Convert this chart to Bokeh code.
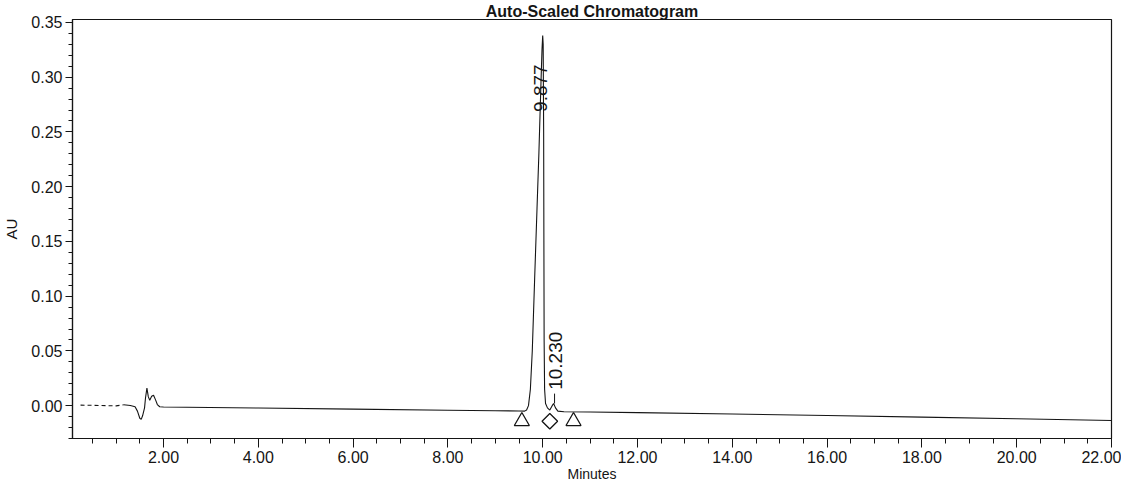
import math
from bokeh.plotting import figure
from bokeh.models import Range1d, FixedTicker, NumeralTickFormatter, ColumnDataSource
from bokeh.core.properties import value
from bokeh.embed import file_html
from bokeh.resources import INLINE

# ---- data ----
# faint (dotted) start of the trace
lead_time_min = [0.25, 0.50, 0.80, 1.00, 1.16]
lead_absorbance_au = [0.0005, 0.0003, 0.0000, -0.0002, 0.0008]

time_min = [1.16, 1.30, 1.40, 1.45, 1.50, 1.53, 1.56, 1.60,
            1.62, 1.65, 1.68, 1.71, 1.75, 1.79, 1.83, 1.87, 1.92, 2.00, 4.00, 6.00,
            8.00, 9.00, 9.50, 9.62, 9.66, 9.70, 9.74, 9.78, 9.83, 9.88, 9.92, 9.96,
            9.985, 10.00, 10.01, 10.02, 10.025, 10.03, 10.04, 10.06, 10.10, 10.15,
            10.20, 10.23, 10.27, 10.32, 10.45, 11.00, 12.00, 14.00, 16.00, 18.00,
            20.00, 22.00]
absorbance_au = [0.0008, 0.0002, -0.0010, -0.0050,
                 -0.0115, -0.0125, -0.0090, -0.0020, 0.0070, 0.0160, 0.0080, 0.0050,
                 0.0085, 0.0095, 0.0055, 0.0010, -0.0010, -0.0012, -0.0022, -0.0032,
                 -0.0042, -0.0046, -0.0049, -0.0050, -0.0040, 0.0000, 0.0150, 0.0500,
                 0.1160, 0.1800, 0.2310, 0.2900, 0.3250, 0.3380, 0.3300, 0.2500,
                 0.1500, 0.0600, 0.0150, 0.0020, -0.0020, -0.0040, 0.0000, 0.0020,
                 -0.0020, -0.0050, -0.0055, -0.0058, -0.0064, -0.0076, -0.0090,
                 -0.0105, -0.0120, -0.0135]

# integration start/end marks (triangles) and valley mark (diamond)
tri_times = [9.56, 10.65]
tri_levels = [-0.0142, -0.0142]
valley_times = [10.15]
valley_levels = [-0.0142]

# peak retention-time labels
peak_label_text = ["9.877", "10.230"]
peak_label_time = [9.95, 10.28]
peak_label_level = [0.290, 0.041]

x_major_ticks = [2, 4, 6, 8, 10, 12, 14, 16, 18, 20, 22]
y_major_ticks = [0.00, 0.05, 0.10, 0.15, 0.20, 0.25, 0.30, 0.35]

FONT = "Liberation Sans"
INK = "#151515"

p = figure(width=1121, height=484, output_backend="svg", toolbar_location=None,
           x_range=Range1d(0.08, 22.0), y_range=Range1d(-0.030, 0.3527),
           title="Auto-Scaled Chromatogram",
           min_border_left=68, min_border_right=10, min_border_top=0,
           min_border_bottom=0)

p.title.text_font = FONT
p.title.text_font_size = "16px"
p.title.text_font_style = "bold"
p.title.align = "center"
p.title.standoff = 0
p.title.text_color = INK

p.background_fill_color = "white"
p.border_fill_color = "white"
p.outline_line_color = INK
p.outline_line_width = 1.2
p.xgrid.visible = False
p.ygrid.visible = False

# x axis
xa = p.xaxis[0]
xa.ticker = FixedTicker(ticks=x_major_ticks,
                        minor_ticks=[0.5 + 0.5 * i for i in range(44)])
xa.formatter = NumeralTickFormatter(format="0.00")
xa.axis_label = "Minutes"
xa.axis_label_text_font = FONT
xa.axis_label_text_font_size = "14px"
xa.axis_label_text_font_style = "normal"
xa.axis_label_standoff = 0
xa.major_label_text_font = FONT
xa.major_label_text_font_size = "16px"
xa.major_label_standoff = 3
xa.major_tick_out = 9
xa.major_tick_in = 0
xa.minor_tick_out = 5
xa.minor_tick_in = 0
for attr in ("axis_line_color", "major_tick_line_color", "minor_tick_line_color"):
    setattr(xa, attr, INK)
xa.axis_line_width = 1.2
xa.major_label_text_color = INK
xa.axis_label_text_color = INK

# y axis
ya = p.yaxis[0]
ya.ticker = FixedTicker(ticks=y_major_ticks,
                        minor_ticks=[round(-0.03 + 0.01 * i, 3) for i in range(39)])
ya.formatter = NumeralTickFormatter(format="0.00")
ya.axis_label = "AU"
ya.axis_label_text_font = FONT
ya.axis_label_text_font_size = "15px"
ya.axis_label_text_font_style = "normal"
ya.axis_label_standoff = 8
ya.major_label_text_font = FONT
ya.major_label_text_font_size = "16px"
ya.major_label_standoff = 3
ya.major_tick_out = 7
ya.major_tick_in = 0
ya.minor_tick_out = 4
ya.minor_tick_in = 0
for attr in ("axis_line_color", "major_tick_line_color", "minor_tick_line_color"):
    setattr(ya, attr, INK)
ya.axis_line_width = 1.2
ya.major_label_text_color = INK
ya.axis_label_text_color = INK

# chromatogram trace
p.line(lead_time_min, lead_absorbance_au, line_color=INK, line_width=1.1,
       line_dash="4 3")
p.line(time_min, absorbance_au, line_color=INK, line_width=1.1)

# leader for the small peak label
p.segment(x0=[peak_label_time[1] - 0.03], y0=[0.002],
          x1=[peak_label_time[1] - 0.03], y1=[0.011],
          line_color=INK, line_width=1)

# integration markers
p.scatter(tri_times, tri_levels, marker="triangle", size=15,
          fill_color=None, line_color=INK, line_width=1.3)
p.scatter(valley_times, valley_levels, marker="square", angle=math.pi / 4,
          size=11, fill_color=None, line_color=INK, line_width=1.3)

# retention-time labels
src = ColumnDataSource(dict(x=peak_label_time, y=peak_label_level, t=peak_label_text))
p.text(x="x", y="y", text="t", source=src, angle=math.pi / 2,
       text_align="center", text_baseline="middle",
       text_font=value(FONT), text_font_size="19px", text_color=INK)

open("out.html", "w").write(file_html(p, INLINE))
